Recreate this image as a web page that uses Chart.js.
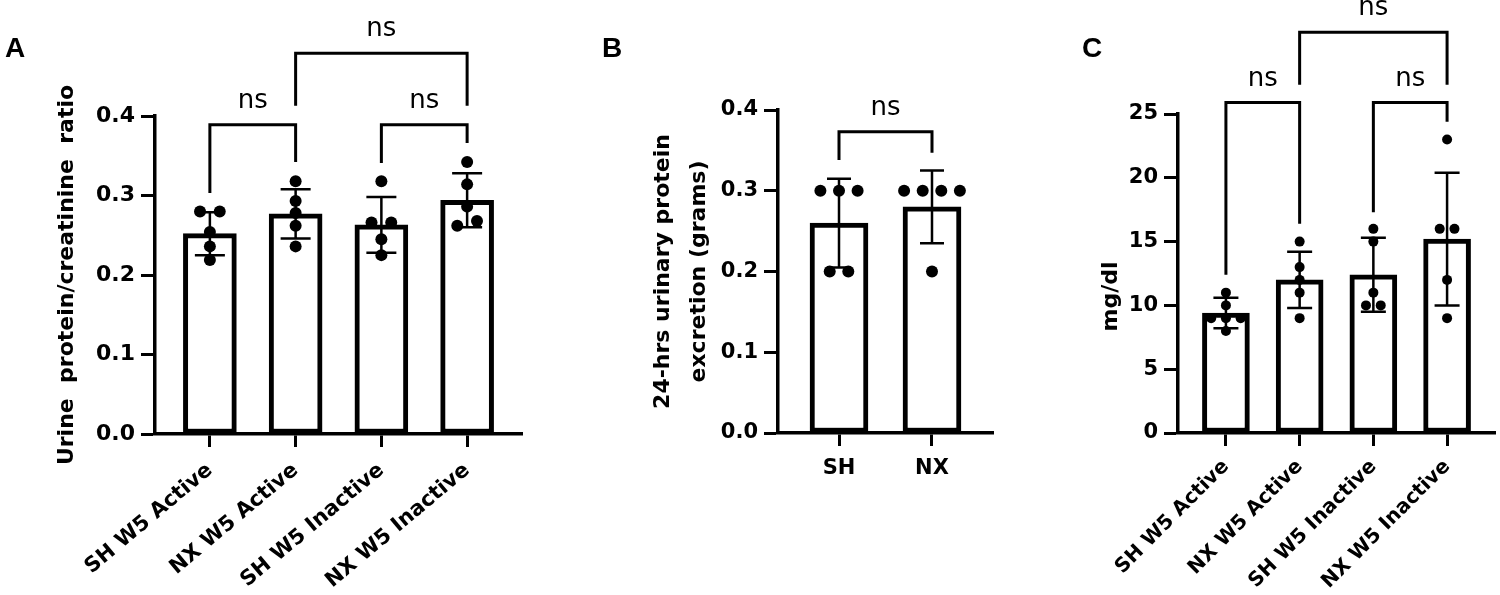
<!DOCTYPE html>
<html>
<head>
<meta charset="utf-8">
<script src="https://cdn.jsdelivr.net/npm/chart.js@4.4.1/dist/chart.umd.min.js"></script>
<style>
  html, body { margin: 0; padding: 0; background: #fff; }
  #wrap { position: relative; width: 1500px; height: 595px; overflow: hidden; }
  canvas { position: absolute; top: 0; }
</style>
</head>
<body>
<div id="wrap">
  <canvas id="chartA" width="560" height="595" style="left:0px"></canvas>
  <canvas id="chartB" width="500" height="595" style="left:560px"></canvas>
  <canvas id="chartC" width="440" height="595" style="left:1060px"></canvas>
</div>
<script>
// ---- data: panel A (urine protein/creatinine ratio)
const groupsA = ["SH W5 Active", "NX W5 Active", "SH W5 Inactive", "NX W5 Inactive"];
const meanA = [0.252, 0.277, 0.263, 0.294];
const sdA = [0.027, 0.031, 0.035, 0.034];
const pointsA = [
  [0.28, 0.28, 0.254, 0.236, 0.219],
  [0.318, 0.293, 0.278, 0.262, 0.236],
  [0.318, 0.266, 0.266, 0.245, 0.225],
  [0.342, 0.314, 0.286, 0.268, 0.262],
];
const ticksA = [0, 0.1, 0.2, 0.3, 0.4];
// comparisons: [group, group], bar height, leg ends
const pairsA = [[0, 1], [2, 3], [1, 3]];
const levelsA = [0.389, 0.389, 0.479];
const legsA = [[0.303, 0.342], [0.341, 0.366], [0.413, 0.413]];

// ---- data: panel B (24-hrs urinary protein)
const groupsB = ["SH", "NX"];
const meanB = [0.26, 0.28];
const sdB = [0.055, 0.045];
const pointsB = [
  [0.3, 0.3, 0.3, 0.2, 0.2],
  [0.3, 0.3, 0.3, 0.3, 0.2],
];
const ticksB = [0, 0.1, 0.2, 0.3, 0.4];
const pairsB = [[0, 1]];
const levelsB = [0.373];
const legsB = [[0.338, 0.347]];

// ---- data: panel C (mg/dl)
const groupsC = ["SH W5 Active", "NX W5 Active", "SH W5 Inactive", "NX W5 Inactive"];
const meanC = [9.4, 12.0, 12.4, 15.2];
const sdC = [1.2, 2.2, 2.9, 5.2];
const pointsC = [
  [11, 10, 9, 9, 9, 8],
  [15, 13, 12, 11, 9],
  [16, 15, 11, 10, 10],
  [23, 16, 16, 12, 9],
];
const ticksC = [0, 5, 10, 15, 20, 25];
const pairsC = [[0, 1], [2, 3], [1, 3]];
const levelsC = [25.9, 25.9, 31.4];
const legsC = [[12.4, 16.4], [17.3, 24.4], [27.3, 27.3]];

// spread points that sit at (nearly) the same value side by side
function spreadPoints(values, center, tol, step) {
  const sorted = [...values].sort((a, b) => b - a);
  const out = [];
  let i = 0;
  while (i < sorted.length) {
    let j = i + 1;
    while (j < sorted.length && sorted[i] - sorted[j] < tol) j++;
    const cluster = sorted.slice(i, j).reverse();
    cluster.forEach((v, k) => {
      out.push({ x: center + (k - (cluster.length - 1) / 2) * step, y: v });
    });
    i = j;
  }
  return out;
}

const BOLD = { family: "'DejaVu Sans', sans-serif", weight: "bold" };

function makePanel(p) {
  const statsPlugin = {
    id: "stats" + p.id,
    afterDatasetsDraw(chart) {
      const ctx = chart.ctx, xs = chart.scales.x, ys = chart.scales.y;
      ctx.save();
      ctx.strokeStyle = "#000";
      ctx.lineWidth = 2.5;
      p.means.forEach((m, i) => {
        const px = xs.getPixelForValue(i);
        const top = ys.getPixelForValue(m + p.sd[i]);
        const bot = ys.getPixelForValue(m - p.sd[i]);
        ctx.beginPath();
        ctx.moveTo(px, top); ctx.lineTo(px, bot);
        ctx.moveTo(px - p.cap / 2, top); ctx.lineTo(px + p.cap / 2, top);
        ctx.moveTo(px - p.cap / 2, bot); ctx.lineTo(px + p.cap / 2, bot);
        ctx.stroke();
      });
      ctx.restore();
    },
    afterDraw(chart) {
      const ctx = chart.ctx, xs = chart.scales.x, ys = chart.scales.y;
      ctx.save();
      ctx.strokeStyle = "#000";
      ctx.fillStyle = "#000";
      ctx.lineWidth = 3;
      ctx.font = "26px 'DejaVu Sans', sans-serif";
      ctx.textAlign = "center";
      ctx.textBaseline = "alphabetic";
      p.pairs.forEach((pair, k) => {
        const x1 = xs.getPixelForValue(pair[0]);
        const x2 = xs.getPixelForValue(pair[1]);
        const yl = ys.getPixelForValue(p.levels[k]);
        ctx.beginPath();
        ctx.moveTo(x1, ys.getPixelForValue(p.legs[k][0]));
        ctx.lineTo(x1, yl);
        ctx.lineTo(x2, yl);
        ctx.lineTo(x2, ys.getPixelForValue(p.legs[k][1]));
        ctx.stroke();
        ctx.fillText("ns", (x1 + x2) / 2, yl - 17);
      });
      ctx.font = "bold 28px 'Liberation Sans', Arial, sans-serif";
      ctx.textAlign = "left";
      ctx.fillText(p.letter, p.letterX, 57);
      ctx.restore();
    },
  };

  const barData = p.means.map((m, i) => ({ x: i, y: m }));
  const dotData = [];
  p.points.forEach((vals, i) => {
    spreadPoints(vals, i, p.tol, p.step).forEach((d) => dotData.push(d));
  });

  return new Chart(document.getElementById(p.id), {
    data: {
      datasets: [
        {
          type: "bar",
          data: barData,
          backgroundColor: "#fff",
          borderColor: "#000",
          borderWidth: p.barBorder,
          borderSkipped: false,
          barThickness: p.barWidth,
          order: 2,
        },
        {
          type: "scatter",
          data: dotData,
          backgroundColor: "#000",
          borderWidth: 0,
          pointRadius: p.dot,
          order: 1,
        },
      ],
    },
    options: {
      responsive: false,
      animation: false,
      events: [],
      layout: { padding: { top: p.top, right: p.right, left: 0, bottom: 0 } },
      plugins: { legend: { display: false }, tooltip: { enabled: false } },
      scales: {
        x: {
          type: "linear",
          min: p.xMin,
          max: p.xMax,
          offset: false,
          afterBuildTicks(s) { s.ticks = p.labels.map((_, i) => ({ value: i })); },
          afterFit(s) { s.height = p.xHeight; },
          ticks: {
            callback: (v) => p.labels[v],
            autoSkip: false,
            minRotation: p.rot,
            maxRotation: p.rot,
            color: "#000",
            padding: p.xPad,
            font: Object.assign({ size: p.xFont }, BOLD),
          },
          grid: { display: true, offset: false, drawOnChartArea: false, drawTicks: true, tickLength: 13, tickWidth: 3, tickColor: "#000" },
          border: { display: true, color: "#000", width: 3.5 },
        },
        y: {
          type: "linear",
          min: 0,
          max: p.ticks[p.ticks.length - 1],
          afterBuildTicks(s) { s.ticks = p.ticks.map((v) => ({ value: v })); },
          afterFit(s) { s.width = p.yWidth; },
          ticks: {
            callback: p.fmt,
            color: "#000",
            padding: 6,
            font: Object.assign({ size: p.yFont }, BOLD),
          },
          grid: { display: true, drawOnChartArea: false, drawTicks: true, tickLength: 14, tickWidth: 3, tickColor: "#000" },
          border: { display: true, color: "#000", width: 3.5 },
          title: {
            display: true,
            text: p.title,
            color: "#000",
            font: Object.assign({ size: p.titleFont, lineHeight: 1.65 }, BOLD),
            padding: { top: p.titlePad, bottom: 0 },
          },
        },
      },
    },
    plugins: [statsPlugin],
  });
}

makePanel({
  id: "chartA", letter: "A", letterX: 5,
  labels: groupsA, means: meanA, sd: sdA, points: pointsA, ticks: ticksA,
  pairs: pairsA, levels: levelsA, legs: legsA,
  fmt: (v) => v.toFixed(1),
  title: "Urine  protein/creatinine  ratio",
  xMin: -0.64, xMax: 3.64, top: 116, right: 38, yWidth: 155, xHeight: 161,
  titlePad: 49, titleFont: 22, yFont: 22, xFont: 21, xPad: 11, rot: 40,
  barWidth: 53, barBorder: 5, cap: 30, dot: 6, tol: 0.014, step: 0.23,
});

makePanel({
  id: "chartB", letter: "B", letterX: 42,
  labels: groupsB, means: meanB, sd: sdB, points: pointsB, ticks: ticksB,
  pairs: pairsB, levels: levelsB, legs: legsB,
  fmt: (v) => v.toFixed(1),
  title: ["24-hrs urinary protein", "excretion (grams)"],
  xMin: -0.656, xMax: 1.656, top: 110, right: 67, yWidth: 218, xHeight: 162,
  titlePad: 85, titleFont: 22, yFont: 21, xFont: 21, xPad: 10, rot: 0,
  barWidth: 58, barBorder: 5, cap: 24, dot: 6, tol: 0.014, step: 0.2,
});

makePanel({
  id: "chartC", letter: "C", letterX: 22,
  labels: groupsC, means: meanC, sd: sdC, points: pointsC, ticks: ticksC,
  pairs: pairsC, levels: levelsC, legs: legsC,
  fmt: (v) => String(v),
  title: "mg/dl      ",
  xMin: -0.65, xMax: 3.65, top: 114, right: 5, yWidth: 118, xHeight: 162,
  titlePad: 33, titleFont: 22, yFont: 21, xFont: 20, xPad: 9, rot: 45,
  barWidth: 47, barBorder: 5, cap: 25, dot: 5, tol: 0.875, step: 0.2,
});
</script>
</body>
</html>
